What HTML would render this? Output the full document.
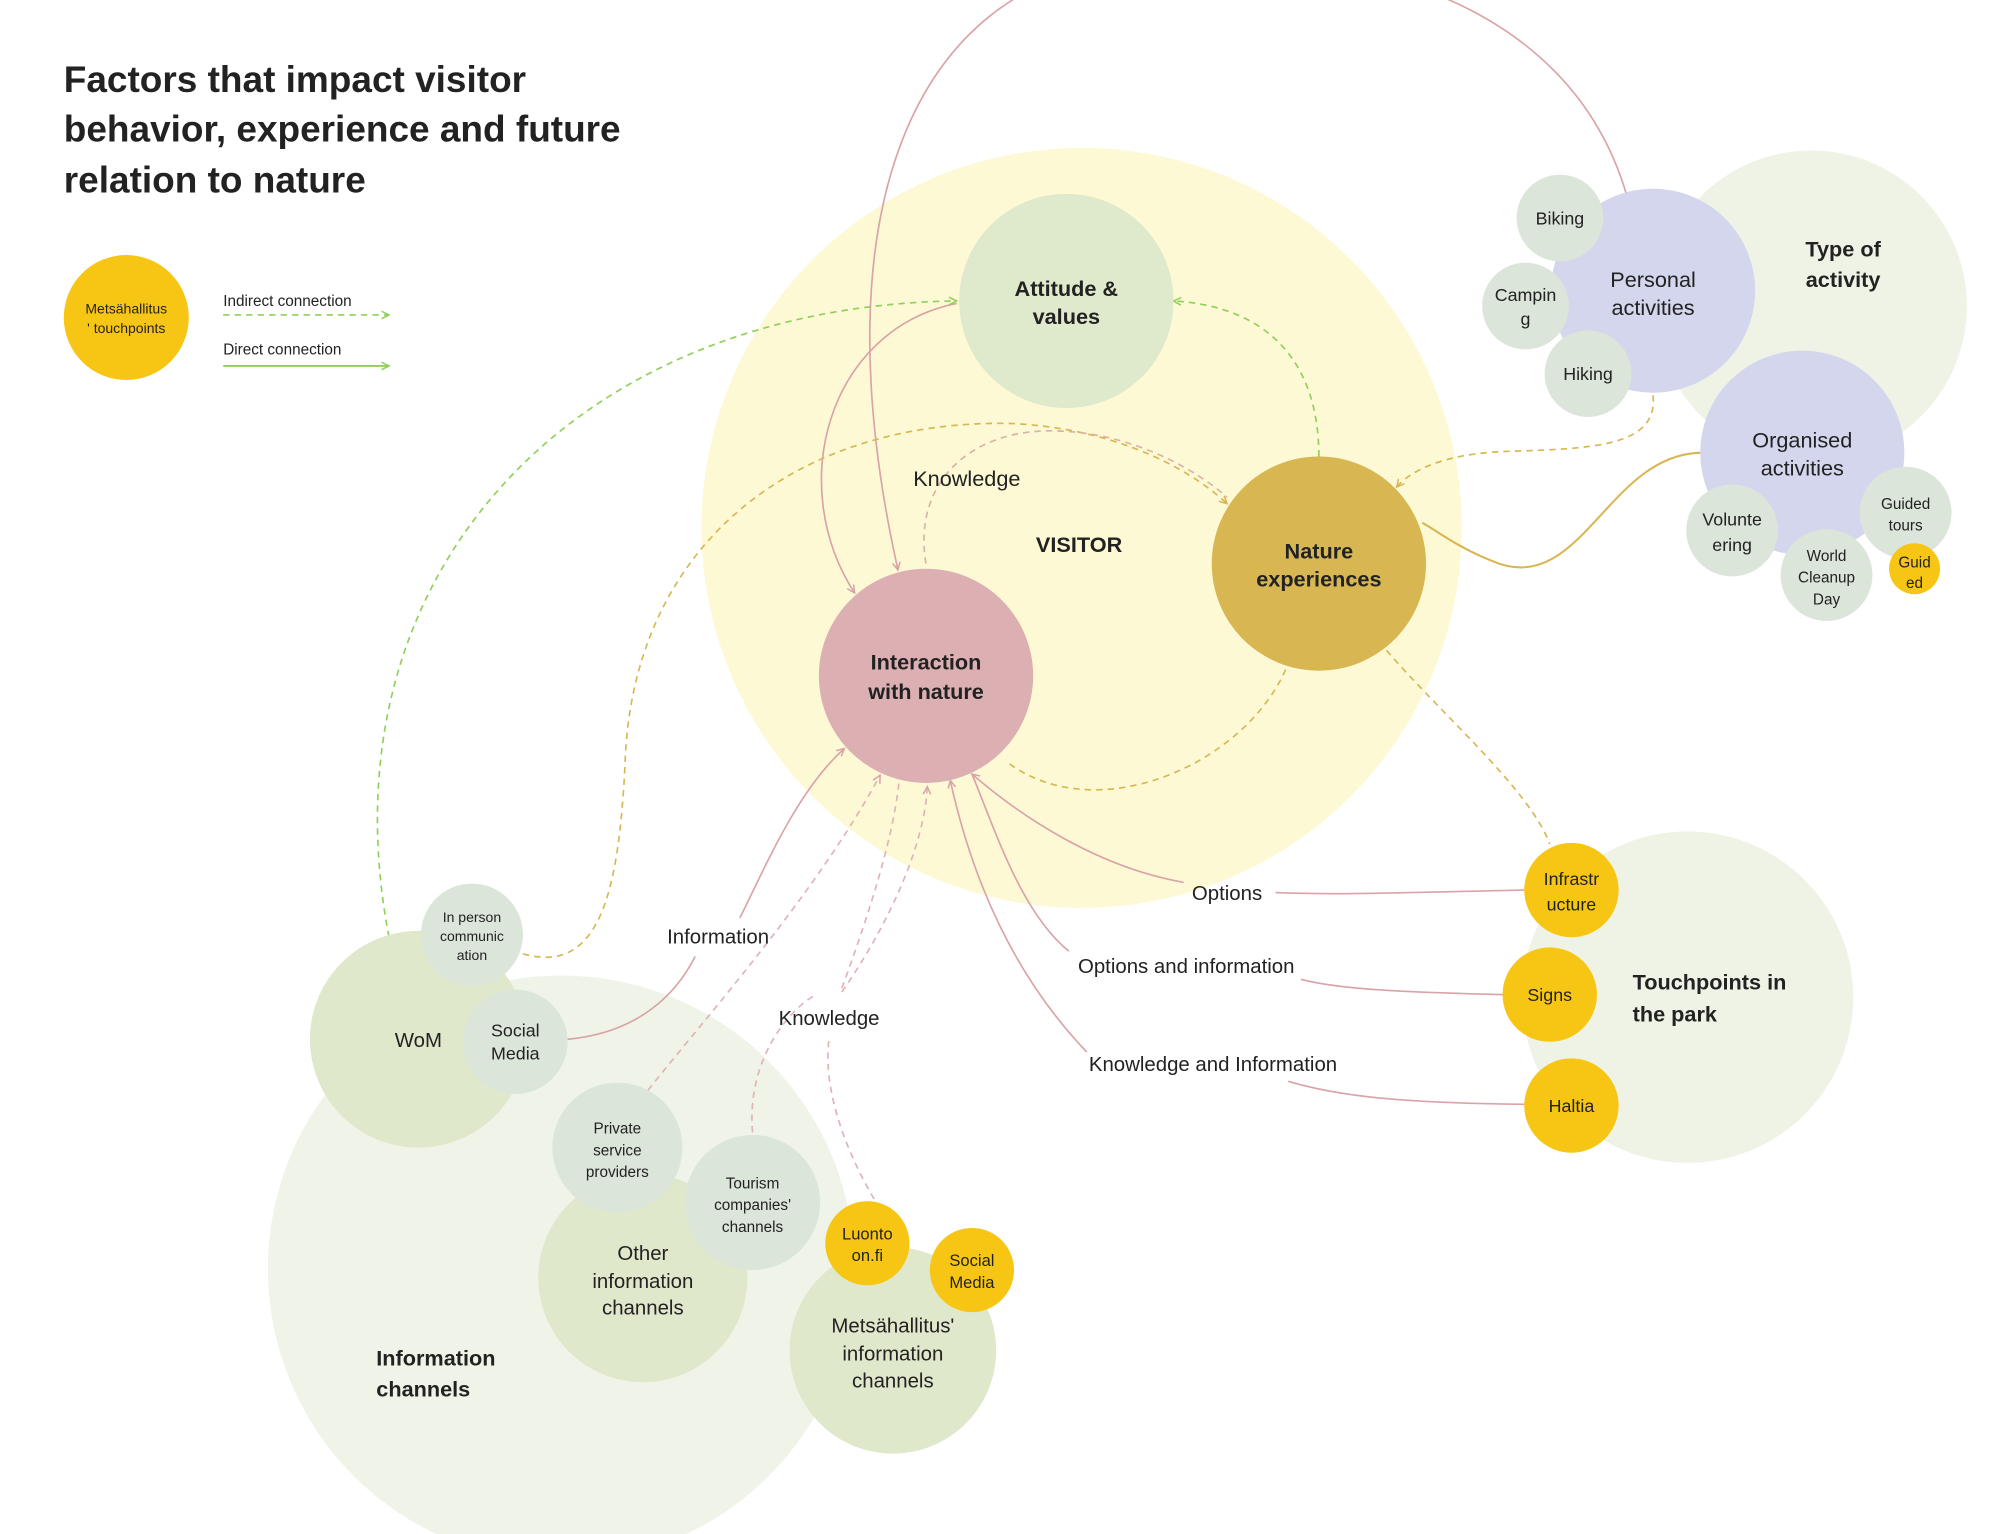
<!DOCTYPE html>
<html><head><meta charset="utf-8"><style>
html,body{margin:0;padding:0;background:#fff;}
svg{display:block;}
text{font-family:"Liberation Sans",sans-serif;fill:#222;}
.b{font-weight:bold;}
</style></head><body>
<svg width="2000" height="1534" viewBox="0 0 1568 1203" preserveAspectRatio="none" xmlns="http://www.w3.org/2000/svg">
<defs>
<marker id="ap" markerWidth="8" markerHeight="8" refX="6" refY="4" orient="auto" markerUnits="userSpaceOnUse"><path d="M0,1 L6,4 L0,7" fill="none" stroke="#d9a3a8" stroke-width="1.2"/></marker>
<marker id="ag" markerWidth="8" markerHeight="8" refX="6" refY="4" orient="auto" markerUnits="userSpaceOnUse"><path d="M0,1 L6,4 L0,7" fill="none" stroke="#8fd05a" stroke-width="1.2"/></marker>
<marker id="ay" markerWidth="8" markerHeight="8" refX="6" refY="4" orient="auto" markerUnits="userSpaceOnUse"><path d="M0,1 L6,4 L0,7" fill="none" stroke="#d8b752" stroke-width="1.2"/></marker>
</defs>

<circle cx="848" cy="414" r="298" fill="#fdf9d5"/>
<circle cx="1420" cy="240" r="122" fill="#eff3e6"/>
<circle cx="1323" cy="782" r="130" fill="#eff3e6"/>
<circle cx="440" cy="995" r="230" fill="#f0f4e8"/>

<text x="50" y="72" font-size="29" class="b">Factors that impact visitor</text>
<text x="50" y="111" font-size="29" class="b">behavior, experience and future</text>
<text x="50" y="151" font-size="29" class="b">relation to nature</text>

<circle cx="99" cy="249" r="49" fill="#f7c614"/>
<text x="99" y="246" font-size="11" text-anchor="middle">Metsähallitus</text>
<text x="99" y="261" font-size="11" text-anchor="middle">' touchpoints</text>
<text x="175" y="240" font-size="12">Indirect connection</text>
<line x1="175" y1="247" x2="305" y2="247" stroke="#8fd05a" stroke-width="1.3" stroke-dasharray="5,4" marker-end="url(#ag)"/>
<text x="175" y="278" font-size="12">Direct connection</text>
<line x1="175" y1="287" x2="305" y2="287" stroke="#8fd05a" stroke-width="1.5" marker-end="url(#ag)"/>

<g fill="none" stroke-width="1.3">
<path d="M1275,152 C1230,0 1060,-50 880,-30 C720,-10 640,160 704,447" stroke="#d9a3a8" marker-end="url(#ap)"/>
<path d="M750,238 C650,258 615,380 670,465" stroke="#d9a3a8" marker-end="url(#ap)"/>
<path d="M305,735 C250,450 450,240 750,236" stroke="#8fd05a" stroke-dasharray="5,4" marker-end="url(#ag)"/>
<path d="M410,748 C470,765 485,700 490,600 C495,430 620,330 790,332 C870,335 930,365 962,395" stroke="#d8b752" stroke-dasharray="5,4" marker-end="url(#ay)"/>
<path d="M726,442 C715,380 760,335 830,338 C890,340 940,370 962,390" stroke="#d9b3a8" stroke-dasharray="5,4"/>
<path d="M1034,358 C1034,280 990,240 920,236" stroke="#8fd05a" stroke-dasharray="5,4" marker-end="url(#ag)"/>
<path d="M1008,525 C975,600 860,650 790,598" stroke="#d8b752" stroke-dasharray="5,4"/>
<path d="M1296,310 C1300,350 1250,352 1180,354 C1130,356 1105,370 1095,382" stroke="#d8b752" stroke-dasharray="5,4" marker-end="url(#ay)"/>
<path d="M1335,355 C1260,355 1240,470 1170,440 C1140,428 1125,415 1115,410" stroke="#d8b752" stroke-width="1.6"/>
<path d="M1087,510 C1130,560 1200,620 1215,662" stroke="#d8b752" stroke-dasharray="5,4"/>
<path d="M1195,698 C1100,700 1050,702 1000,700" stroke="#d9a3a8"/>
<path d="M928,692 C860,680 800,640 762,607" stroke="#d9a3a8" marker-end="url(#ap)"/>
<path d="M1178,780 C1100,778 1050,776 1020,768" stroke="#d9a3a8"/>
<path d="M838,746 C800,715 780,650 762,607" stroke="#d9a3a8"/>
<path d="M1196,866 C1100,865 1050,860 1010,848" stroke="#d9a3a8"/>
<path d="M852,825 C790,760 760,680 745,612" stroke="#d9a3a8" marker-end="url(#ap)"/>
<path d="M445,815 C500,810 530,780 545,750" stroke="#d9a3a8"/>
<path d="M580,720 C600,680 625,620 662,587" stroke="#d9a3a8" marker-end="url(#ap)"/>
<path d="M508,855 C560,790 640,700 690,608" stroke="#e0b3b6" stroke-dasharray="5,4" marker-end="url(#ap)"/>
<path d="M590,888 C585,830 620,790 640,780 M660,775 C680,720 700,660 705,612" stroke="#e0b3b6" stroke-dasharray="5,4"/>
<path d="M690,948 C660,900 645,850 650,815 M660,778 C700,720 725,660 727,617" stroke="#e0b3b6" stroke-dasharray="5,4" marker-end="url(#ap)"/>
</g>

<circle cx="836" cy="236" r="84" fill="#dfe9cb"/>
<text x="836" y="232" font-size="17" class="b" text-anchor="middle">Attitude &amp;</text>
<text x="836" y="254" font-size="17" class="b" text-anchor="middle">values</text>
<circle cx="726" cy="530" r="84" fill="#dcb0b3"/>
<text x="726" y="525" font-size="17" class="b" text-anchor="middle">Interaction</text>
<text x="726" y="548" font-size="17" class="b" text-anchor="middle">with nature</text>
<circle cx="1034" cy="442" r="84" fill="#d8b752"/>
<text x="1034" y="438" font-size="17" class="b" text-anchor="middle">Nature</text>
<text x="1034" y="460" font-size="17" class="b" text-anchor="middle">experiences</text>
<text x="846" y="433" font-size="17" class="b" text-anchor="middle">VISITOR</text>
<text x="758" y="381" font-size="17" text-anchor="middle">Knowledge</text>

<circle cx="1296" cy="228" r="80" fill="#d3d6ec"/>
<circle cx="1223" cy="171" r="34" fill="#dce5da"/>
<circle cx="1196" cy="240" r="34" fill="#dce5da"/>
<circle cx="1245" cy="293" r="34" fill="#dce5da"/>
<text x="1296" y="225" font-size="17" text-anchor="middle">Personal</text>
<text x="1296" y="247" font-size="17" text-anchor="middle">activities</text>
<text x="1223" y="176" font-size="14" text-anchor="middle">Biking</text>
<text x="1196" y="236" font-size="14" text-anchor="middle">Campin</text>
<text x="1196" y="255" font-size="14" text-anchor="middle">g</text>
<text x="1245" y="298" font-size="14" text-anchor="middle">Hiking</text>
<text x="1445" y="201" font-size="17" class="b" text-anchor="middle">Type of</text>
<text x="1445" y="225" font-size="17" class="b" text-anchor="middle">activity</text>
<circle cx="1413" cy="355" r="80" fill="#d3d6ec"/>
<text x="1413" y="351" font-size="17" text-anchor="middle">Organised</text>
<text x="1413" y="373" font-size="17" text-anchor="middle">activities</text>
<circle cx="1358" cy="416" r="36" fill="#dce5da"/>
<text x="1358" y="412" font-size="14" text-anchor="middle">Volunte</text>
<text x="1358" y="432" font-size="14" text-anchor="middle">ering</text>
<circle cx="1432" cy="451" r="36" fill="#dce5da"/>
<text x="1432" y="440" font-size="12" text-anchor="middle">World</text>
<text x="1432" y="457" font-size="12" text-anchor="middle">Cleanup</text>
<text x="1432" y="474" font-size="12" text-anchor="middle">Day</text>
<circle cx="1494" cy="402" r="36" fill="#dce5da"/>
<text x="1494" y="399" font-size="12" text-anchor="middle">Guided</text>
<text x="1494" y="416" font-size="12" text-anchor="middle">tours</text>
<circle cx="1501" cy="446" r="20" fill="#f7c614"/>
<text x="1501" y="445" font-size="12" text-anchor="middle">Guid</text>
<text x="1501" y="461" font-size="12" text-anchor="middle">ed</text>

<circle cx="1232" cy="698" r="37" fill="#f7c614"/>
<text x="1232" y="694" font-size="14" text-anchor="middle">Infrastr</text>
<text x="1232" y="714" font-size="14" text-anchor="middle">ucture</text>
<circle cx="1215" cy="780" r="37" fill="#f7c614"/>
<text x="1215" y="785" font-size="14" text-anchor="middle">Signs</text>
<circle cx="1232" cy="867" r="37" fill="#f7c614"/>
<text x="1232" y="872" font-size="14" text-anchor="middle">Haltia</text>
<text x="1280" y="776" font-size="17" class="b">Touchpoints in</text>
<text x="1280" y="801" font-size="17" class="b">the park</text>

<text x="962" y="706" font-size="16" text-anchor="middle">Options</text>
<text x="930" y="763" font-size="16" text-anchor="middle">Options and information</text>
<text x="951" y="840" font-size="16" text-anchor="middle">Knowledge and Information</text>
<text x="563" y="740" font-size="16" text-anchor="middle">Information</text>
<text x="650" y="804" font-size="16" text-anchor="middle">Knowledge</text>

<circle cx="328" cy="815" r="85" fill="#dfe8cb"/>
<circle cx="370" cy="733" r="40" fill="#dce5da"/>
<circle cx="404" cy="817" r="41" fill="#dce5da"/>
<text x="328" y="821" font-size="16" text-anchor="middle">WoM</text>
<text x="370" y="723" font-size="11" text-anchor="middle">In person</text>
<text x="370" y="738" font-size="11" text-anchor="middle">communic</text>
<text x="370" y="753" font-size="11" text-anchor="middle">ation</text>
<text x="404" y="813" font-size="14" text-anchor="middle">Social</text>
<text x="404" y="831" font-size="14" text-anchor="middle">Media</text>

<circle cx="504" cy="1002" r="82" fill="#dfe8cb"/>
<circle cx="484" cy="900" r="51" fill="#dce5da"/>
<circle cx="590" cy="943" r="53" fill="#dce5da"/>
<text x="504" y="988" font-size="16" text-anchor="middle">Other</text>
<text x="504" y="1010" font-size="16" text-anchor="middle">information</text>
<text x="504" y="1031" font-size="16" text-anchor="middle">channels</text>
<text x="484" y="889" font-size="12" text-anchor="middle">Private</text>
<text x="484" y="906" font-size="12" text-anchor="middle">service</text>
<text x="484" y="923" font-size="12" text-anchor="middle">providers</text>
<text x="590" y="932" font-size="12" text-anchor="middle">Tourism</text>
<text x="590" y="949" font-size="12" text-anchor="middle">companies'</text>
<text x="590" y="966" font-size="12" text-anchor="middle">channels</text>

<circle cx="700" cy="1059" r="81" fill="#dfe8cb"/>
<circle cx="680" cy="975" r="33" fill="#f7c614"/>
<circle cx="762" cy="996" r="33" fill="#f7c614"/>
<text x="700" y="1045" font-size="16" text-anchor="middle">Metsähallitus'</text>
<text x="700" y="1067" font-size="16" text-anchor="middle">information</text>
<text x="700" y="1088" font-size="16" text-anchor="middle">channels</text>
<text x="680" y="972" font-size="13" text-anchor="middle">Luonto</text>
<text x="680" y="989" font-size="13" text-anchor="middle">on.fi</text>
<text x="762" y="993" font-size="13" text-anchor="middle">Social</text>
<text x="762" y="1010" font-size="13" text-anchor="middle">Media</text>

<text x="295" y="1071" font-size="17" class="b">Information</text>
<text x="295" y="1095" font-size="17" class="b">channels</text>
</svg>
</body></html>
